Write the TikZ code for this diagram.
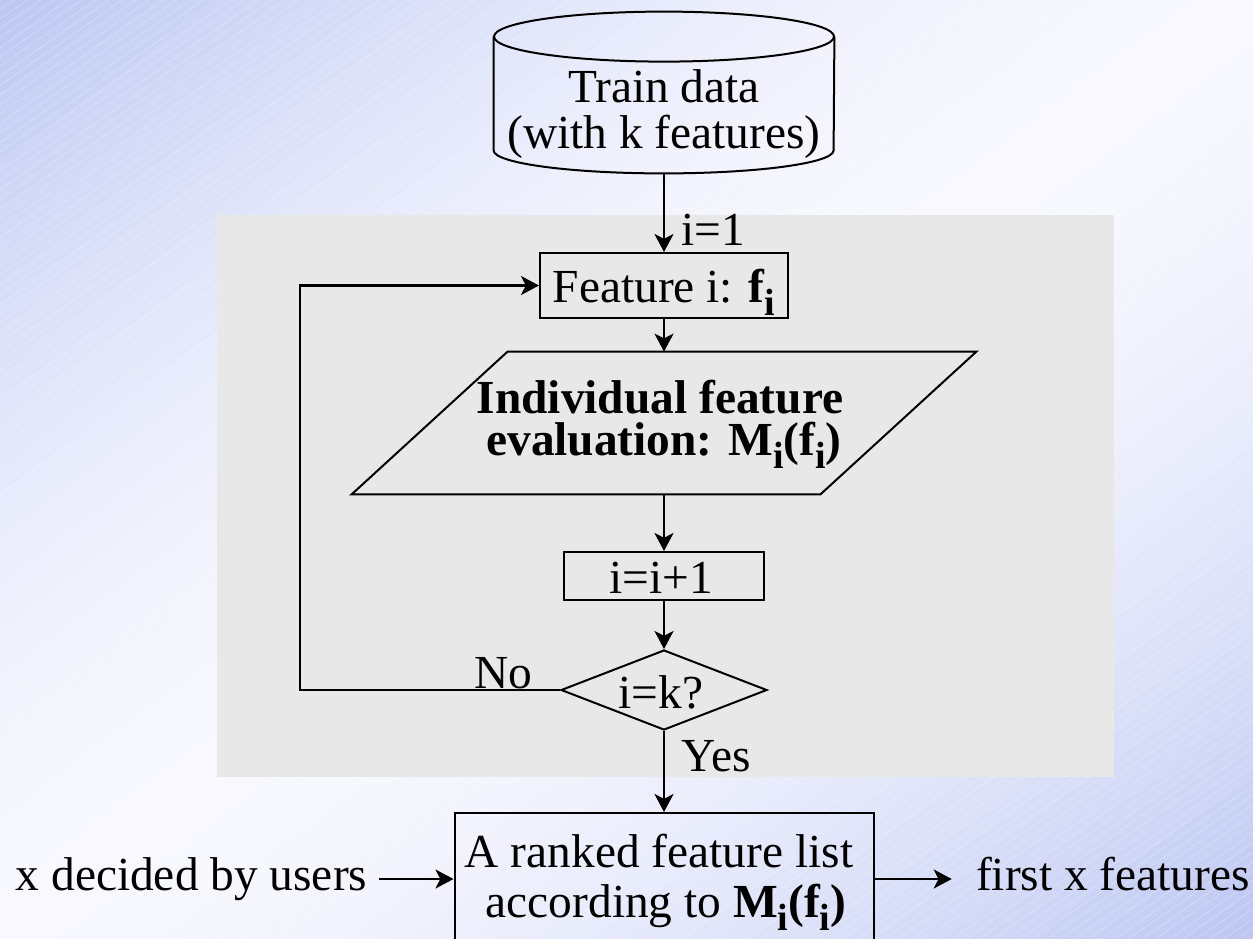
\documentclass[tikz,border=0pt]{standalone}
\usepackage{fontspec}
\setmainfont{Liberation Serif}
\usetikzlibrary{shapes.geometric,arrows.meta,calc}

\definecolor{bgblue}{RGB}{188,198,242}
\definecolor{bgwhite}{RGB}{248,248,254}
\definecolor{panelgray}{RGB}{232,232,232}

% lowered, slightly smaller index used in f_i and M_i
\newcommand\lowsub[1]{\raisebox{-6.5pt}{\fontsize{19}{19}\selectfont #1}}

\tikzset{
  every node/.style={font=\fontsize{23.7}{24}\selectfont},
  txt/.style={inner sep=0pt, anchor=base},
  line/.style={draw=black, line width=1pt},
  frame/.style={rectangle, draw=none, inner sep=0pt},
  box/.style={rectangle, line, fill=panelgray, inner sep=0pt},
  decision/.style={diamond, line, fill=panelgray, inner sep=0pt},
  arrow/.style={line, line width=1.1pt, -{Stealth[length=9pt, width=9.5pt, inset=2.4pt]}},
  hatch/.style={draw=white, line width=0.3pt, opacity=0.3},
}

\begin{document}
\begin{tikzpicture}[x=0.5pt, y=-0.5pt]
\useasboundingbox (0,0) rectangle (1253,938);

% background: diagonal gradient, blue in two corners, white across the middle
\begin{scope}
  \clip (0,0) rectangle (1253,938);
  \foreach \k in {0,...,79}{
    \pgfmathsetmacro\sa{\k/40}
    \pgfmathsetmacro\sb{\sa+1/40+0.004}
    \pgfmathsetmacro\dd{abs(\sa+1/80-1)}
    \pgfmathsetmacro\pp{100*(\dd^1.7)}
    \colorlet{bandc}{bgblue!\pp!bgwhite}
    \fill[bandc] ({\sa*1253+1253},-938) -- ({\sb*1253+1253},-938)
                 -- ({\sb*1253-2506},1876) -- ({\sa*1253-2506},1876) -- cycle;
  }
  \foreach \k in {0,...,196}{
    \draw[hatch] (0,{\k*9.5}) -- ++(1400,-980);
  }
\end{scope}

% grey panel behind the loop
\fill[panelgray] (217,215) rectangle (1114,777);

% shapes
\node[frame, minimum width=170pt, minimum height=80.5pt] (data) at (664,92.5) {};
\node[box, minimum width=124pt, minimum height=32.5pt] (feat) at (664,285.5) {};
\node[frame, minimum width=312pt, minimum height=71pt] (eval) at (664,423) {};
\node[box, minimum width=100pt, minimum height=24pt] (inc) at (664,576) {};
\node[decision, minimum width=103pt, minimum height=40pt] (test) at (664,690) {};
\node[box, fill=none, minimum width=209.5pt, minimum height=66pt] (rank) at (664,879) {};
\coordinate (loopx) at (300,690);

% database cylinder
\draw[line] ($(data.north west)+(0,25)$) -- ($(data.south west)+(0,-23)$)
  arc[start angle=180, end angle=360, x radius=85pt, y radius=11.5pt]
  -- ($(data.north east)+(0,25)$);
\draw[line] ($(data.north)+(0,25)$) ellipse [x radius=85pt, y radius=12.5pt];

% parallelogram
\draw[line, fill=panelgray] ($(eval.north west)+(156,0)$) -- (eval.north east)
  -- ($(eval.south east)+(-156,0)$) -- (eval.south west) -- cycle;

% texts
\node[txt] (t1) at (664,102) {Train data};
\node[txt] (t2) at (664,148) {(with k features)};
\node[txt] (t3) at (664,302) {Feature i: \textbf{f\lowsub{i}}};
\node[txt, font=\fontsize{23.7}{24}\selectfont\bfseries] (t4) at (660,413) {Individual feature};
\node[txt, font=\fontsize{23.7}{24}\selectfont\bfseries] (t5) at (664,455) {evaluation: M\lowsub{i}(f\lowsub{i})};
\node[txt] (t6) at (661,593) {i=i+1};
\node[txt] (t7) at (661,708) {i=k?};
\node[txt] (t8) at (659,867) {A ranked feature list};
\node[txt] (t9) at (666,917) {according to \textbf{M\lowsub{i}(f\lowsub{i})}};
\node[txt] (lone) at (713,245) {i=1};
\node[txt] (lno) at (503,688) {No};
\node[txt] (lyes) at (716,771) {Yes};
\node[txt, inner xsep=5.5pt] (users) at (191.5,890) {x decided by users};
\node[txt, inner xsep=12pt] (outl) at (1113,890) {first x features};

% connectors
\draw[arrow] (data.south) -- (feat.north);
\draw[arrow] (feat.south) -- (eval.north);
\draw[arrow] (eval.south) -- (inc.north);
\draw[arrow] (inc.south) -- (test.north);
\draw[arrow] (test.west) -- (test.west -| loopx) |- (feat.west);
\draw[arrow] (test.south) -- (rank.north);
\draw[arrow] (rank.west -| users.east) -- (rank.west);
\draw[arrow] (rank.east) -- (rank.east -| outl.west);
\end{tikzpicture}
\end{document}
